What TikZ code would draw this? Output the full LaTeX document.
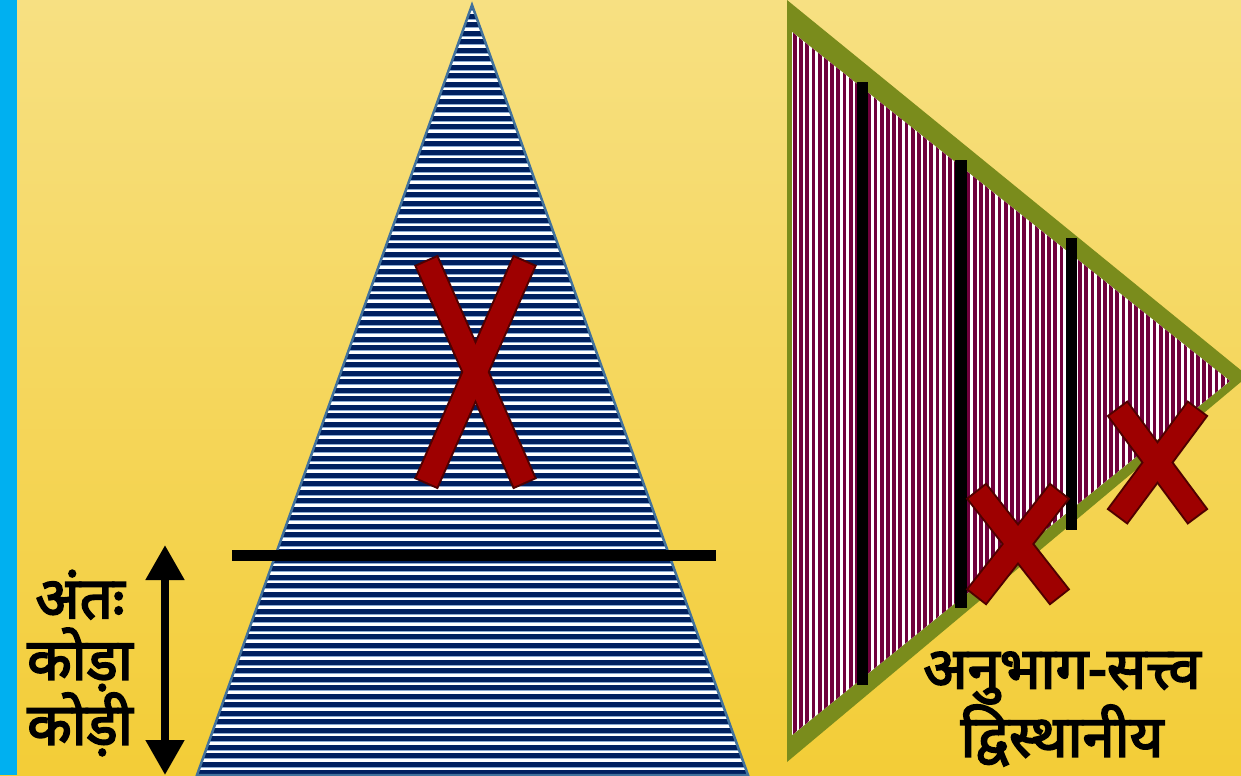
\documentclass[tikz,border=0pt]{standalone}
\usepackage{fontspec}
\newfontfamily\hindi[Script=Devanagari, FakeBold=3]{Noto Sans}
\usepackage{tikz}
\usetikzlibrary{arrows.meta,positioning}
\definecolor{bgyellow}{RGB}{243,205,55}
\definecolor{bgpale}{RGB}{247,224,130}
\definecolor{sidebar}{RGB}{0,176,240}
\definecolor{navy}{RGB}{0,32,96}
\definecolor{stripeblue}{RGB}{140,170,210}
\definecolor{edgeblue}{RGB}{65,113,156}
\definecolor{maroon}{RGB}{112,0,60}
\definecolor{olive}{RGB}{122,140,28}
\definecolor{xred}{RGB}{158,0,0}
\definecolor{xdark}{RGB}{80,0,0}

\begin{document}
\begin{tikzpicture}[x=0.02cm, y=-0.02cm,
    lbl/.style={font=\hindi\bfseries\fontsize{33}{35}\selectfont, align=center, inner sep=0pt},
    dblarr/.style={{Triangle[width=0.74cm,length=0.7cm]}-{Triangle[width=0.74cm,length=0.7cm]}, line width=0.16cm},
    bar/.style={fill=black},
    xout/.style={draw=xdark, line width=0.52cm},
    xin/.style={draw=xred, line width=0.44cm, shorten >=0.04cm, shorten <=0.04cm}
]
\useasboundingbox (0,0) rectangle (1241,775);
\shade[top color=bgpale, bottom color=bgyellow] (0,0) rectangle (1241,775);
\fill[sidebar] (0,0) rectangle (17,775);

% left triangle
\begin{scope}
    \clip (472,5) -- (748,775) -- (197,775) -- cycle;
    \fill[white] (190,0) rectangle (760,780);
    \foreach \i in {0,...,91} {
        \fill[navy] (190,{5+8.5*\i}) rectangle (760,{10+8.5*\i});
        \fill[stripeblue] (190,{10+8.5*\i}) rectangle (760,{11+8.5*\i});
    }
\end{scope}
\draw[edgeblue, line width=0.05cm] (472,5) -- (748,775) -- (197,775) -- cycle;
\fill[bar] (232,550) rectangle (716,561);

% right triangle
\fill[olive] (787,0) -- (1248,376) -- (787,762) -- cycle;
\begin{scope}
    \clip (792,32) -- (1230,381) -- (792,735) -- cycle;
    \fill[white] (785,0) rectangle (1241,775);
    \foreach \i in {0,...,72}
        \fill[maroon] ({793+6.2*\i},0) rectangle ({796.8+6.2*\i},775);
\end{scope}
\fill[bar] (857,82) rectangle (868,685);
\fill[bar] (955,160) rectangle (967,608);
\fill[bar] (1066,238) rectangle (1077,530);

% crosses
\foreach \cx/\cy/\w/\h in {475.5/372/99/224, 1018/544/84/107, 1157.5/462.5/81/109} {
    \draw[xout] ({\cx-\w/2},{\cy-\h/2}) -- ({\cx+\w/2},{\cy+\h/2});
    \draw[xout] ({\cx+\w/2},{\cy-\h/2}) -- ({\cx-\w/2},{\cy+\h/2});
    \draw[xin] ({\cx-\w/2},{\cy-\h/2}) -- ({\cx+\w/2},{\cy+\h/2});
    \draw[xin] ({\cx+\w/2},{\cy-\h/2}) -- ({\cx-\w/2},{\cy+\h/2});
}

% range arrow and labels
\coordinate (uptip) at (165,545);
\coordinate (downtip) at (165,775);
\draw[dblarr] (uptip) -- (downtip);
\node[lbl] (antah) at (80,663) {अंतः\\कोड़ा\\कोड़ी};
\node[lbl] (anubhag) at (1062,678) {अनुभाग-सत्त्व};
\node[lbl, below=0cm of anubhag] (dvisthan) {द्विस्थानीय};
\end{tikzpicture}
\end{document}
